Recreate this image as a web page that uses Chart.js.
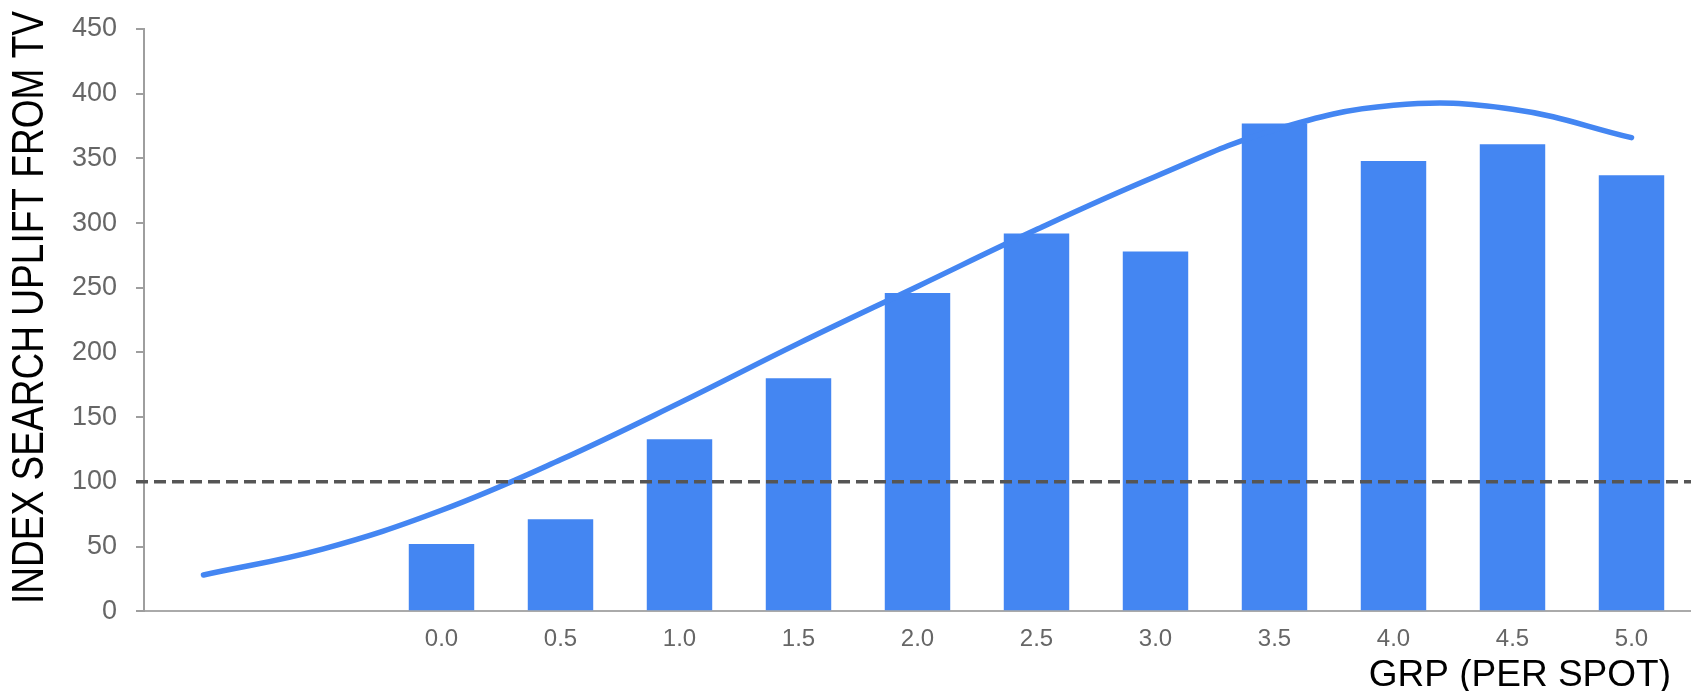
<!DOCTYPE html>
<html>
<head>
<meta charset="utf-8">
<script src="https://cdn.jsdelivr.net/npm/chart.js@4/dist/chart.umd.min.js"></script>
<style>
  html, body { margin: 0; padding: 0; background: #fff; }
  #wrap { width: 1691px; height: 691px; position: relative; }
</style>
</head>
<body>
<div id="wrap"><canvas id="chart"></canvas></div>
<script>
// GRP per spot categories (two leading blank slots where the trend starts)
const categories = ['', '', '0.0', '0.5', '1.0', '1.5', '2.0', '2.5', '3.0', '3.5', '4.0', '4.5', '5.0'];
// Index of search uplift from TV for each GRP bucket
const upliftIndex = [null, null, 52, 71, 133, 180, 246, 292, 278, 377, 348, 361, 337];
// Smoothed trend through the buckets
const trendIndex = [28, 48, 78, 117, 161, 207, 251, 295, 336, 372, 391, 388, 366];
// Baseline index level (no uplift)
const baselineIndex = 100;
const yMin = 0, yMax = 450, yStep = 50;

const BLUE = '#4486F2';
const FONT = "'Liberation Sans', Arial, sans-serif";

// Dashed baseline across the whole plot area
const baselinePlugin = {
  id: 'baseline',
  afterDatasetsDraw(chart) {
    const { ctx, chartArea } = chart;
    const y = chart.scales.y.getPixelForValue(baselineIndex);
    ctx.save();
    ctx.strokeStyle = '#555555';
    ctx.lineWidth = 3.5;
    ctx.setLineDash([12, 6]);
    ctx.beginPath();
    ctx.moveTo(chartArea.left - 8, y);
    ctx.lineTo(chartArea.right, y);
    ctx.stroke();
    ctx.restore();
  }
};

// Axis titles: condensed vertical title on the left, x title under the last buckets
const axisTitlePlugin = {
  id: 'axisTitles',
  afterDraw(chart) {
    const { ctx, chartArea } = chart;
    ctx.save();
    ctx.fillStyle = '#000000';

    // y title, narrow face squeezed along its run
    const yText = 'INDEX SEARCH UPLIFT FROM TV';
    ctx.font = '45px ' + FONT;
    const runLength = 593;
    const squeeze = runLength / ctx.measureText(yText).width;
    ctx.save();
    ctx.translate(43, 307.5);
    ctx.rotate(-Math.PI / 2);
    ctx.scale(squeeze, 1);
    ctx.textAlign = 'center';
    ctx.textBaseline = 'alphabetic';
    ctx.fillText(yText, 0, 0);
    ctx.restore();

    // x title
    ctx.font = '37px ' + FONT;
    ctx.textAlign = 'right';
    ctx.textBaseline = 'alphabetic';
    ctx.fillText('GRP (PER SPOT)', chartArea.right - 20, 686);
    ctx.restore();
  }
};

new Chart(document.getElementById('chart'), {
  type: 'bar',
  data: {
    labels: categories,
    datasets: [
      {
        type: 'line',
        data: trendIndex,
        borderColor: BLUE,
        borderWidth: 5.5,
        borderCapStyle: 'round',
        tension: 0.4,
        pointRadius: 0,
        fill: false,
        order: 0
      },
      {
        type: 'bar',
        data: upliftIndex,
        backgroundColor: BLUE,
        borderWidth: 0,
        categoryPercentage: 1.0,
        barPercentage: 0.55,
        order: 1
      }
    ]
  },
  options: {
    responsive: true,
    maintainAspectRatio: false,
    animation: false,
    devicePixelRatio: 1,
    layout: { padding: { top: 29, right: 0, bottom: 23, left: 0 } },
    plugins: {
      legend: { display: false },
      tooltip: { enabled: false }
    },
    scales: {
      x: {
        offset: true,
        grid: { display: false, drawTicks: false },
        border: { display: true, color: '#AAAAAA', width: 2 },
        ticks: {
          color: '#666666',
          font: { family: FONT, size: 24 },
          padding: 14,
          maxRotation: 0,
          autoSkip: false
        }
      },
      y: {
        min: yMin,
        max: yMax,
        afterFit(scale) {
          scale.width = 144;
          scale.paddingTop = 0;
        },
        grid: {
          drawOnChartArea: false,
          drawTicks: true,
          tickLength: 8,
          color: '#9E9E9E',
          lineWidth: 2
        },
        border: { display: true, color: '#9E9E9E', width: 2 },
        ticks: {
          stepSize: yStep,
          color: '#666666',
          font: { family: FONT, size: 27 },
          padding: 19
        }
      }
    }
  },
  plugins: [baselinePlugin, axisTitlePlugin]
});
</script>
</body>
</html>
